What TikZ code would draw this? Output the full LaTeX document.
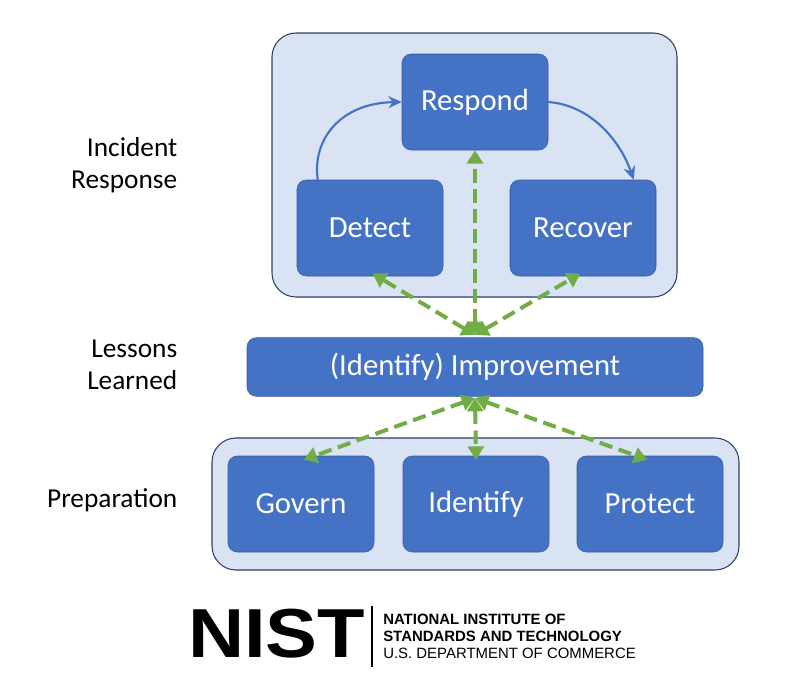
\documentclass[tikz,border=0pt]{standalone}
\usepackage{fontspec}
\setmainfont{Carlito}
\newfontfamily\logofont{Liberation Sans}
\usetikzlibrary{positioning, arrows.meta}
\definecolor{boxblue}{RGB}{68,114,196}
\definecolor{panelfill}{RGB}{218,227,243}
\definecolor{panelline}{RGB}{47,64,96}
\definecolor{dashgreen}{RGB}{112,173,71}
\tikzset{
  phase/.style={draw=boxblue!80!black, fill=boxblue, rounded corners=7pt, text=white,
    minimum width=109.5pt, minimum height=72pt, font=\fontsize{23}{26}\selectfont},
  panel/.style={draw=panelline, fill=panelfill, rounded corners=18pt, line width=0.8pt},
  sidelabel/.style={align=right, anchor=east, font=\fontsize{20.5}{24}\selectfont},
  feedback/.style={dashgreen, line width=3pt, dash pattern=on 10pt off 5pt,
    {Triangle[length=10pt,width=12pt]}-{Triangle[length=10pt,width=12pt]}},
  cycle/.style={boxblue, line width=1.6pt, -{Stealth[length=10pt,width=9pt]}}
}
\begin{document}
\begin{tikzpicture}[x=0.75pt,y=0.75pt,yscale=-1,xscale=1]
\useasboundingbox (0,0) rectangle (800,700);

% panels
\draw[panel] (272,33) rectangle (677,297);
\draw[panel] (212,438) rectangle (739,570);

% phase boxes
\node[phase] (respond) at (475,102) {Respond};
\node[phase] (detect) at (370,228) {Detect};
\node[phase] (recover) at (583,228) {Recover};
\node[phase, minimum width=342pt, minimum height=44pt] (improve) at (475,367) {(Identify) Improvement};
\node[phase] (govern) at (301,504) {Govern};
\node[phase] (identify) at (476,504) {Identify};
\node[phase] (protect) at (650,504) {Protect};

% side labels
\node[sidelabel] (incident) at (182,165) {Incident\\Response};
\node[sidelabel] (lessons) at (182,365) {Lessons\\Learned};
\node[sidelabel] (prep) at (182,500) {Preparation};

% cycle arrows
\draw[cycle] (detect.north west) ++(21,0) .. controls (312,140) and (340,103) .. (respond.west);
\draw[cycle] (respond.east) .. controls (590,105) and (620,140) .. ([xshift=38pt]recover.north);

% feedback arrows
\coordinate (imptop) at (475,335);
\coordinate (impbot) at (475,398);
\draw[feedback] (imptop) -- ([xshift=2pt,yshift=-2pt]detect.south);
\draw[feedback] (imptop) -- (respond.south);
\draw[feedback] (imptop) -- ([xshift=-2pt,yshift=-2pt]recover.south);
\draw[feedback] (impbot) -- ([xshift=2pt,yshift=3pt]govern.north);
\draw[feedback] (impbot) -- ([yshift=3pt]identify.north);
\draw[feedback] (impbot) -- ([xshift=-2pt,yshift=3pt]protect.north);

% logo
\node[anchor=west, inner sep=0pt, font=\logofont\bfseries\fontsize{52}{52}\selectfont,
  xscale=1.12] (nist) at (188,634) {NIST};
\draw[line width=1pt] (372,606) -- (372,667);
\node[anchor=north west, inner sep=0pt, align=left, font=\logofont\fontsize{11.2}{12.8}\selectfont]
  (agency) at (383,614) {\textbf{NATIONAL INSTITUTE OF}\\\textbf{STANDARDS AND TECHNOLOGY}\\U.S. DEPARTMENT OF COMMERCE};
\end{tikzpicture}
\end{document}
